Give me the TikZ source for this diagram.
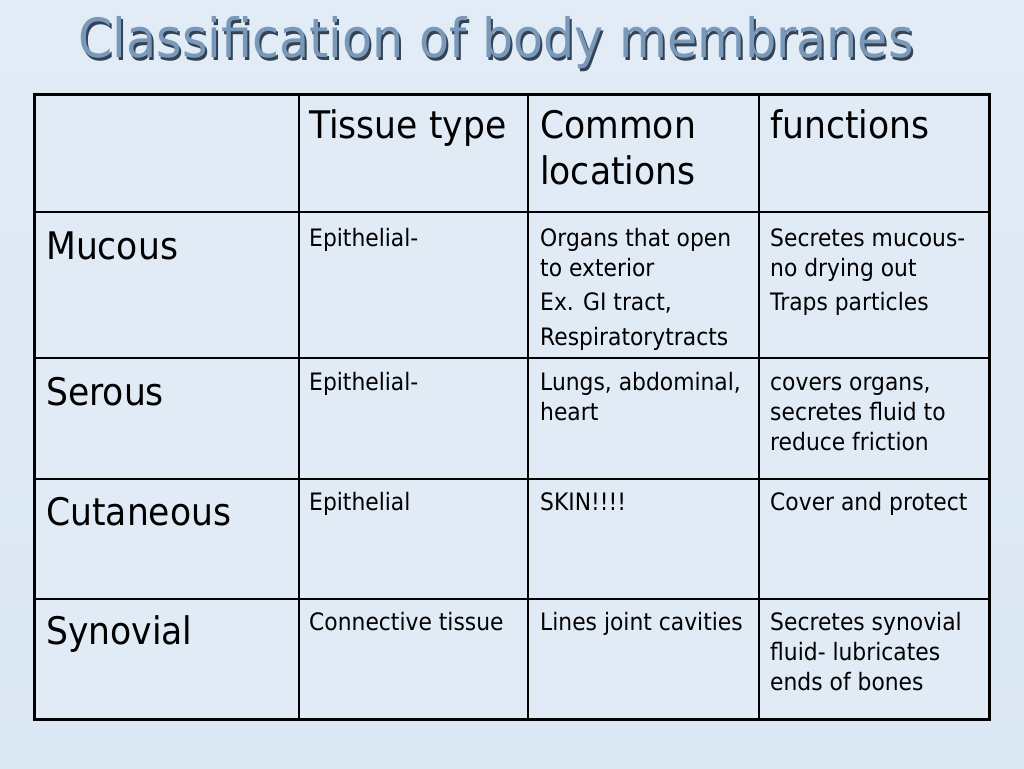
\documentclass[tikz,border=0pt]{standalone}
\usepackage{fontspec}
\setmainfont{DejaVu Sans}[FakeStretch=0.91]
\usepackage{xcolor}
\usepackage{tikz}
\definecolor{slidebg}{RGB}{219,231,243}
\definecolor{slidebgtop}{RGB}{226,236,246}
\definecolor{cellbg}{RGB}{225,235,246}
\definecolor{titleblue}{RGB}{122,153,184}
\definecolor{titleshadow}{RGB}{52,66,86}

\begin{document}
\begin{tikzpicture}[x=1pt,y=-1pt]
\tikzset{
    bigcell/.style = {anchor=north west, inner sep=0pt, align=left, font=\fontsize{38}{46}\selectfont},
    smallcell/.style = {anchor=north west, inner sep=0pt, align=left, font=\fontsize{24}{30}\selectfont},
    titletext/.style = {anchor=base, inner sep=0pt, font=\fontsize{54}{60}\selectfont},
    innerline/.style = {line width=1.8pt, black},
    outerline/.style = {line width=3pt, black},
}
% slide background
\shade[top color=slidebgtop, bottom color=slidebg] (0,0) rectangle (1024,768);
\useasboundingbox (0,0) rectangle (1024,768);

% title with its shadow
\node (titleshade) [titletext, text=titleshadow] at (498,60) {Classification of body membranes};
\node (title) [titletext, text=titleblue] at (496,58) {Classification of body membranes};

% table frame
\coordinate (tl) at (34,94);
\coordinate (br) at (989,719);
\fill[cellbg] (tl) rectangle (br);
\foreach \x in {299,528,759}
  \draw[innerline] (\x,94) -- (\x,719);
\foreach \y in {212,358,479,599}
  \draw[innerline] (34,\y) -- (989,\y);
\draw[outerline] (tl) rectangle (br);

% header row
\node (htissue) [bigcell] at (309,106) {\strut Tissue type};
\node (hloc) [bigcell] at (540,106) {\strut Common\\locations};
\node (hfunc) [bigcell] at (770,106) {\strut functions};

% mucous
\node (mucous) [bigcell] at (46,227) {\strut Mucous};
\node (mtissue) [smallcell] at (309,225) {\strut Epithelial-};
\node (mloc) [smallcell] at (540,225) {\strut Organs that open\\to exterior\\[4pt]Ex. GI tract,\\[5pt]Respiratorytracts};
\node (mfunc) [smallcell] at (770,225) {\strut Secretes mucous-\\no drying out\\[4pt]Traps particles};

% serous
\node (serous) [bigcell] at (46,373) {\strut Serous};
\node (stissue) [smallcell] at (309,369) {\strut Epithelial-};
\node (sloc) [smallcell] at (540,369) {\strut Lungs, abdominal,\\heart};
\node (sfunc) [smallcell] at (770,369) {\strut covers organs,\\secretes fluid to\\reduce friction};

% cutaneous
\node (cutaneous) [bigcell] at (46,493) {\strut Cutaneous};
\node (ctissue) [smallcell] at (309,489) {\strut Epithelial};
\node (cloc) [smallcell] at (540,489) {\strut SKIN!!!!};
\node (cfunc) [smallcell] at (770,489) {\strut Cover and protect};

% synovial
\node (synovial) [bigcell] at (46,612) {\strut Synovial};
\node (ytissue) [smallcell] at (309,609) {\strut Connective tissue};
\node (yloc) [smallcell] at (540,609) {\strut Lines joint cavities};
\node (yfunc) [smallcell] at (770,609) {\strut Secretes synovial\\fluid- lubricates\\ends of bones};

\end{tikzpicture}
\end{document}
